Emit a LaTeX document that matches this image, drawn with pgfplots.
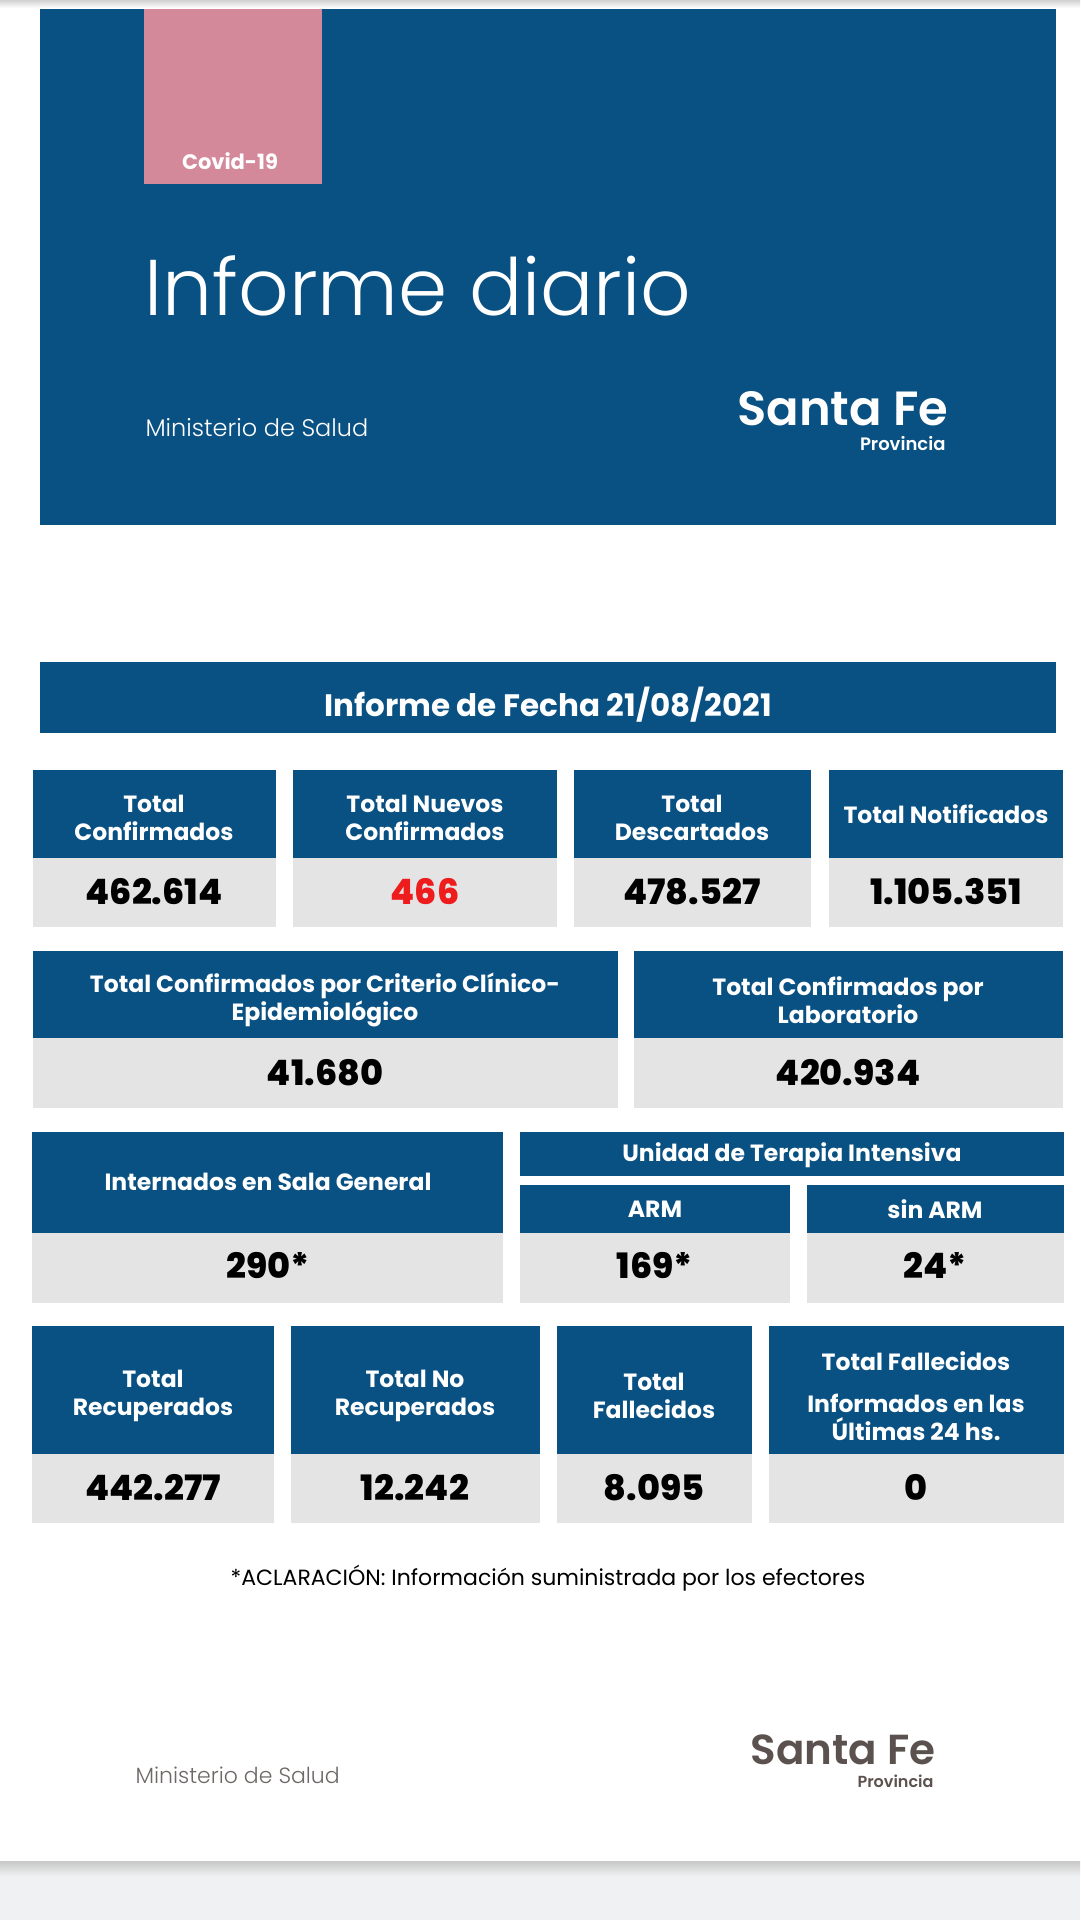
\documentclass[border=0pt]{standalone}
\usepackage{fontspec}
\setmainfont{Poppins}
\newfontfamily\poplight{Poppins Light}
\newfontfamily\popsemi{Poppins SemiBold}
\newfontfamily\popxbold{Poppins ExtraBold}
\usepackage{pgfplots}
\pgfplotsset{compat=1.18}
\definecolor{sfblue}{HTML}{0A5183}
\definecolor{sfpink}{HTML}{D4899A}
\definecolor{cellgray}{HTML}{E4E4E4}
\definecolor{newred}{HTML}{EE1C1C}
\definecolor{logobrown}{HTML}{5B514E}
\definecolor{footgray}{HTML}{6E6866}
\definecolor{bandgray}{HTML}{F0F1F3}

% card: x1, x2, ytop, ysplit, ybot
\newcommand{\cardbox}[5]{%
  \fill[sfblue] (axis cs:#1,#3) rectangle (axis cs:#2,#4);
  \fill[cellgray] (axis cs:#1,#4) rectangle (axis cs:#2,#5);}
\newcommand{\num}{\popxbold\fontsize{35}{40}\selectfont}

\begin{document}
\begin{tikzpicture}
\begin{axis}[
  width=1080pt, height=1920pt, scale only axis,
  xmin=0, xmax=1080, ymin=0, ymax=1920, y dir=reverse,
  hide axis, clip=false,
  every node/.style={inner sep=0pt, outer sep=0pt},
]
\tikzset{hdr/.style={white, align=center, font=\bfseries\fontsize{23.5}{28}\selectfont}}
% page
\fill[white] (axis cs:0,0) rectangle (axis cs:1080,1920);
\shade[top color=black!18, bottom color=white] (axis cs:0,0) rectangle (axis cs:1080,8);
\fill[bandgray] (axis cs:0,1863) rectangle (axis cs:1080,1920);
\shade[top color=black!22, bottom color=bandgray] (axis cs:0,1861) rectangle (axis cs:1080,1876);

% header
\fill[sfblue] (axis cs:40,9) rectangle (axis cs:1056,525);
\fill[sfpink] (axis cs:144,9) rectangle (axis cs:322,184);
\node[anchor=base, white] at (axis cs:230,169) {\bfseries\fontsize{21}{24}\selectfont Covid-19};
\node[anchor=base west, white] at (axis cs:141,315) {\poplight\fontsize{79}{90}\selectfont Informe diario};
\node[anchor=base west, white] at (axis cs:142,436) {\poplight\fontsize{24}{28}\selectfont Ministerio de Salud};
\node[anchor=base east, white, text depth=0pt] at (axis cs:952,425) {\popsemi\fontsize{48}{54}\selectfont Santa Fe};
\node[anchor=base east, white, text height=13pt] at (axis cs:949,450) {\popsemi\fontsize{18}{20}\selectfont Provincia};

% date bar
\fill[sfblue] (axis cs:40,662) rectangle (axis cs:1056,733);
\node[anchor=base, white] at (axis cs:548,716) {\bfseries\fontsize{31}{34}\selectfont Informe de Fecha 21/08/2021};

% row 1
\cardbox{33}{276}{770}{858}{927}
\cardbox{293}{557}{770}{858}{927}
\cardbox{574}{811}{770}{858}{927}
\cardbox{829}{1063}{770}{858}{927}
\node[hdr] at (axis cs:154,818) {Total\\Confirmados};
\node[hdr] at (axis cs:425,818) {Total Nuevos\\Confirmados};
\node[hdr] at (axis cs:692,818) {Total\\Descartados};
\node[hdr] at (axis cs:946,814) {Total Notificados};
\node[anchor=base] at (axis cs:154,904) {\num 462.614};
\node[anchor=base, newred] at (axis cs:425,904) {\num 466};
\node[anchor=base] at (axis cs:692,904) {\num 478.527};
\node[anchor=base] at (axis cs:946,904) {\num 1.105.351};

% row 2
\cardbox{33}{618}{951}{1038}{1108}
\cardbox{634}{1063}{951}{1038}{1108}
\node[hdr] at (axis cs:325,1000) {Total Confirmados por Criterio Clínico-\\Epidemiológico};
\node[hdr] at (axis cs:848,1000) {Total Confirmados por\\Laboratorio};
\node[anchor=base] at (axis cs:325,1085) {\num 41.680};
\node[anchor=base] at (axis cs:848,1085) {\num 420.934};

% row 3
\cardbox{32}{503}{1132}{1233}{1303}
\fill[sfblue] (axis cs:520,1132) rectangle (axis cs:1064,1176);
\cardbox{520}{790}{1185}{1233}{1303}
\cardbox{807}{1064}{1185}{1233}{1303}
\node[hdr] at (axis cs:268,1182) {Internados en Sala General};
\node[hdr] at (axis cs:792,1155) {Unidad de Terapia Intensiva};
\node[hdr] at (axis cs:655,1209) {ARM};
\node[hdr] at (axis cs:935,1209) {sin ARM};
\node[anchor=base] at (axis cs:268,1278) {\num 290*};
\node[anchor=base] at (axis cs:655,1278) {\num 169*};
\node[anchor=base] at (axis cs:935,1278) {\num 24*};

% row 4
\cardbox{32}{274}{1326}{1454}{1523}
\cardbox{291}{540}{1326}{1454}{1523}
\cardbox{557}{752}{1326}{1454}{1523}
\cardbox{769}{1064}{1326}{1454}{1523}
\node[hdr] at (axis cs:153,1396) {Total\\Recuperados};
\node[hdr] at (axis cs:415,1396) {Total No\\Recuperados};
\node[hdr] at (axis cs:654,1396) {Total\\Fallecidos};
\node[hdr] at (axis cs:916,1396) {Total Fallecidos\\[14pt]Informados en las\\Últimas 24 hs.};
\node[anchor=base] at (axis cs:153,1500) {\num 442.277};
\node[anchor=base] at (axis cs:415,1500) {\num 12.242};
\node[anchor=base] at (axis cs:654,1500) {\num 8.095};
\node[anchor=base] at (axis cs:916,1500) {\num 0};

% note
\node[anchor=base] at (axis cs:548,1585) {\fontsize{22}{26}\selectfont *ACLARACIÓN: Información suministrada por los efectores};

% footer
\node[anchor=base west, footgray] at (axis cs:132,1783) {\poplight\fontsize{22}{26}\selectfont Ministerio de Salud};
\node[anchor=base east, logobrown, text depth=0pt] at (axis cs:939,1764) {\popsemi\fontsize{42}{48}\selectfont Santa Fe};
\node[anchor=base east, logobrown, text height=12pt] at (axis cs:937,1787) {\popsemi\fontsize{16}{18}\selectfont Provincia};
\end{axis}
\end{tikzpicture}
\end{document}
